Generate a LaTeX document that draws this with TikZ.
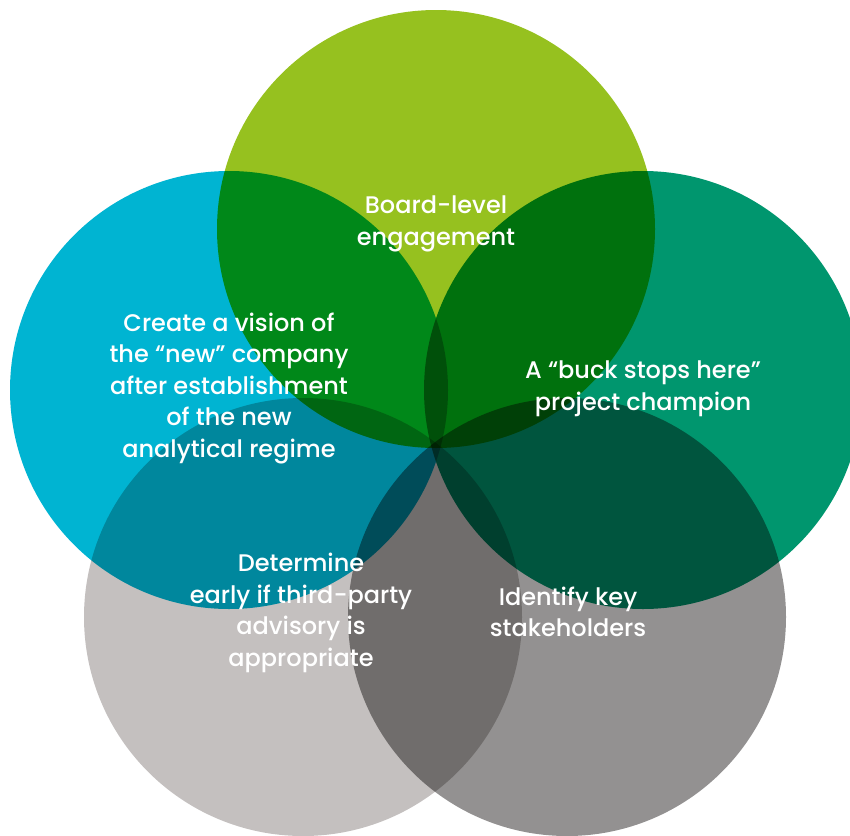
\documentclass[tikz,border=0pt]{standalone}
\usepackage{fontspec}
\setmainfont{Poppins Medium}
\usetikzlibrary{positioning}
\definecolor{vennlime}{RGB}{150,193,31}
\definecolor{vennsky}{RGB}{0,180,210}
\definecolor{vennteal}{RGB}{0,150,110}
\definecolor{vennstone}{RGB}{196,192,191}
\definecolor{vennslate}{RGB}{147,145,145}

\begin{document}
\begin{tikzpicture}[x=1pt,y=-1pt,
    petal/.style={fill=#1},
    every node/.style={text=white,align=center,inner sep=0pt,
                       font=\fontsize{24}{31.5}\selectfont}]
  \fill[white] (0,0) rectangle (850,835);
  \useasboundingbox (0,0) rectangle (850,835);
  % centres of the five circles
  \coordinate (cboard) at (436,229);
  \coordinate (cvision) at (229,390);
  \coordinate (cchamp) at (643,390);
  \coordinate (cadvice) at (303,617);
  \coordinate (cstake) at (567,617);
  \begin{scope}[blend group=multiply]
    \fill[petal=vennlime] (cboard) circle[radius=219];
    \fill[petal=vennsky] (cvision) circle[radius=219];
    \fill[petal=vennteal] (cchamp) circle[radius=219];
    \fill[petal=vennstone] (cadvice) circle[radius=219];
    \fill[petal=vennslate] (cstake) circle[radius=219];
  \end{scope}
  % labels
  \node (board) at (436,224) {Board-level\\engagement};
  \node (vision) at (229,388) {Create a vision of\\the “new” company\\after establishment\\of the new\\analytical regime};
  \node (champ) at (643,389) {A “buck stops here”\\project champion};
  \node (advice) at (301,613) {Determine\\early if third-party\\advisory is\\appropriate};
  \node (stake) at (568,612) {Identify key\\stakeholders};
\end{tikzpicture}
\end{document}
